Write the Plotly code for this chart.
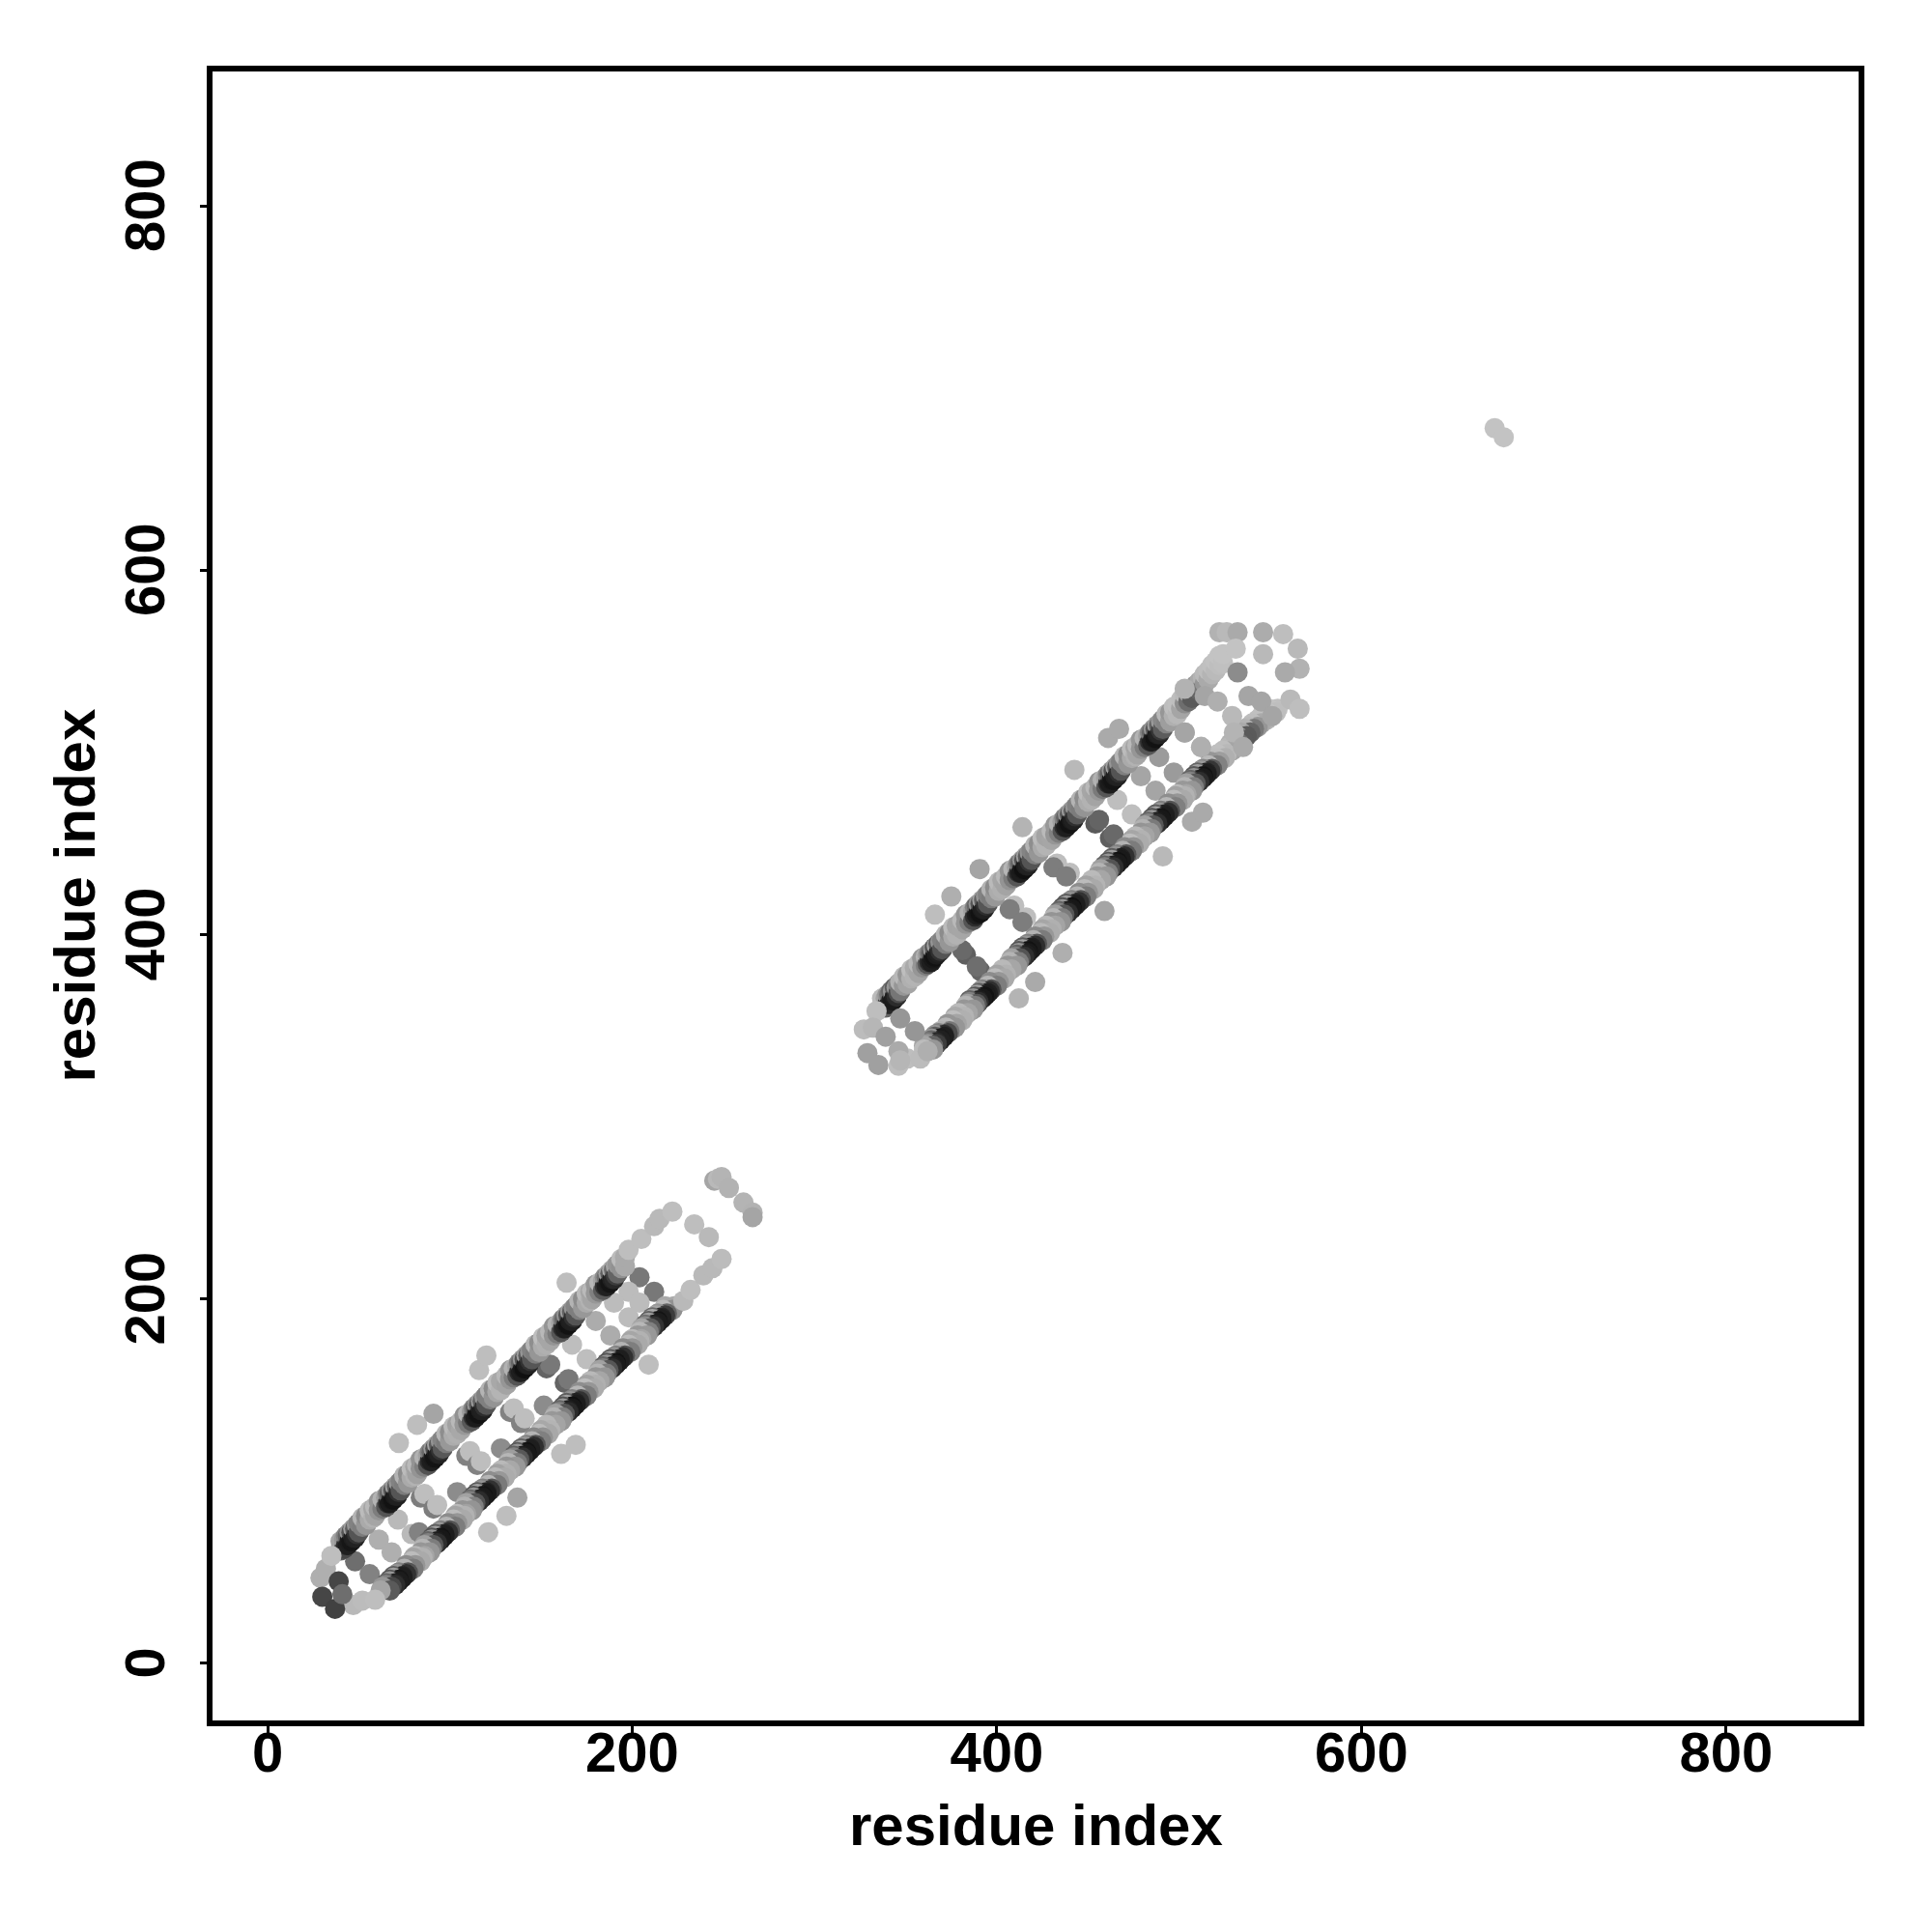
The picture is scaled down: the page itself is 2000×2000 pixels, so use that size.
import plotly.graph_objects as go

# --- strand contacts (residue i, residue j, grey level); two entries per residue
low_i = [40,40,42,42,43,43,44,44,45,45,46,46,47,47,48,48,49,49,50,50,52,52,54,54,56,56,58,58,
         59,59,61,61,63,63,65,65,66,66,67,67,68,68,69,69,70,70,71,71,72,72,73,73,75,75,77,77,79,79,81,81,
         82,82,84,84,86,86,88,88,89,89,90,90,91,91,92,92,93,93,94,94,95,95,96,96,98,98,100,100,102,102,104,104,
         106,106,108,108,110,110,112,112,113,113,114,114,115,115,116,116,117,117,118,118,119,119,120,120,122,122,124,124,126,126,128,128,
         131,131,133,133,135,135,137,137,138,138,139,139,140,140,141,141,142,142,143,143,144,144,145,145,147,147,149,149,151,151,153,153,
         155,155,157,157,159,159,161,161,162,162,163,163,164,164,165,165,166,166,167,167,168,168,169,169,171,171,173,173,175,175,177,177,
         178,178,180,180,182,182,184,184,185,185,186,186,187,187,188,188,189,189,190,190,191,191,192,192,194,194,196,196]
low_j = [62,67,63,68,65,70,65,70,67,72,67,72,69,74,69,74,71,76,72,77,75,80,76,81,79,84,80,85,
         81,86,84,89,85,90,86,91,88,93,88,93,90,95,90,95,92,97,92,97,94,99,95,100,98,103,99,104,102,107,103,108,
         104,109,107,112,108,113,109,114,111,116,111,116,113,118,113,118,115,120,115,120,117,122,118,123,121,126,122,127,125,130,126,131,
         128,133,131,136,132,137,133,138,135,140,135,140,137,142,137,142,139,144,139,144,141,146,142,147,145,150,146,151,149,154,150,155,
         153,158,156,161,157,162,158,163,160,165,160,165,162,167,162,167,164,169,164,169,166,171,167,172,170,175,171,176,174,179,175,180,
         177,182,180,185,181,186,182,187,184,189,184,189,186,191,186,191,188,193,188,193,190,195,191,196,194,199,195,200,198,203,199,204,
         200,205,203,208,204,209,205,210,207,212,207,212,209,214,209,214,211,216,211,216,213,218,214,219,217,222,218,223]
low_shade = [90,165,70,150,45,130,32,100,28,150,22,85,30,160,34,95,50,150,85,130,125,180,150,140,170,188,178,165,
             165,185,150,150,125,180,85,160,45,130,28,100,24,150,18,85,28,160,32,95,48,150,85,130,125,180,150,140,170,188,178,165,
             162,186,148,148,128,178,82,162,44,128,30,104,26,152,20,82,26,162,34,92,50,148,88,132,122,182,152,142,172,186,176,162,
             168,185,152,146,122,182,88,158,46,132,28,98,25,148,18,88,30,158,32,98,46,152,84,128,128,180,148,138,168,188,180,168,
             164,184,150,152,126,178,84,160,42,130,30,102,24,152,16,84,28,160,34,94,50,150,86,130,124,182,150,142,172,190,176,164,
             166,185,148,148,124,180,86,162,46,128,32,100,26,150,18,86,30,162,32,96,48,148,84,132,126,180,152,140,170,188,178,166,
             165,186,152,152,128,184,90,166,50,140,32,110,28,160,20,96,32,170,40,108,60,165,100,150,145,188,170,170]

up_i = [337,337,339,339,340,340,341,341,342,342,343,343,344,344,345,345,346,346,347,347,349,349,351,351,353,353,355,355,
        357,357,359,359,361,361,362,362,363,363,364,364,365,365,366,366,367,367,368,368,369,369,370,370,372,372,374,374,376,376,378,378,
        381,381,383,383,385,385,387,387,388,388,389,389,390,390,391,391,392,392,393,393,394,394,395,395,397,397,399,399,401,401,403,403,
        405,405,407,407,409,409,411,411,412,412,413,413,414,414,415,415,416,416,417,417,418,418,419,419,421,421,423,423,425,425,427,427,
        430,430,432,432,434,434,436,436,437,437,438,438,439,439,440,440,441,441,442,442,443,443,444,444,446,446,448,448,450,450,452,452,
        454,454,456,456,458,458,460,460,461,461,462,462,463,463,464,464,465,465,466,466,467,467,468,468,470,470,472,472,474,474,476,476,
        477,477,479,479,481,481,483,483,484,484,485,485,486,486,487,487,488,488,489,489,490,490,491,491,493,493,495,495,497,497,499,499,
        501,501,503,503,505,505,507,507,509,509,511,511,513,513,514,514,516,516,518,518,520,520,522,522,524,524]
up_j = [360,365,360,365,362,367,362,367,364,369,364,369,366,371,366,371,368,373,369,374,372,377,373,378,376,381,377,382,
        379,384,382,387,383,388,384,389,385,390,385,390,387,392,388,393,389,394,390,395,391,396,392,397,395,400,396,401,399,404,400,405,
        403,408,406,411,407,412,408,413,410,415,411,416,412,417,412,417,414,419,414,419,416,421,417,422,420,425,421,426,424,429,425,430,
        427,432,430,435,431,436,432,437,434,439,434,439,436,441,436,441,438,443,438,443,440,445,441,446,444,449,445,450,448,453,449,454,
        452,457,455,460,456,461,457,462,459,464,459,464,461,466,461,466,463,468,463,468,465,470,466,471,469,474,470,475,473,478,474,479,
        476,481,479,484,480,485,481,486,483,488,483,488,485,490,485,490,487,492,487,492,489,494,490,495,493,498,494,499,497,502,498,503,
        499,504,502,507,503,508,504,509,506,511,506,511,508,513,508,513,510,515,510,515,512,517,513,518,516,521,517,522,520,525,521,526,
        524,529,527,532,528,533,530,535,532,537,534,539,536,541,538,543,540,545,543,548,545,550,548,553,549,554]
up_shade = [150,188,100,165,60,150,40,120,32,105,26,150,30,92,44,150,76,130,118,178,150,185,165,150,176,190,180,170,
            165,186,150,150,125,180,85,160,46,130,30,98,24,150,18,84,28,160,32,94,48,150,84,130,125,182,150,140,170,188,178,165,
            166,185,150,150,126,180,84,162,46,128,30,100,25,150,18,86,28,162,32,96,46,150,86,130,124,180,152,140,172,186,176,166,
            164,185,148,148,124,182,86,160,44,130,28,102,24,152,16,84,30,160,34,92,50,148,84,132,126,180,150,142,170,188,180,164,
            166,186,150,152,128,180,84,160,46,130,30,98,26,150,18,86,26,160,32,96,48,150,86,130,124,180,148,140,172,190,178,166,
            164,185,152,148,122,178,86,162,44,132,28,100,24,152,20,82,30,162,34,94,46,150,84,128,128,182,150,142,170,188,178,164,
            166,186,150,152,126,180,88,160,46,130,30,102,26,150,18,88,30,160,36,100,54,155,92,136,130,185,158,150,176,190,184,192,
            165,190,142,185,110,178,90,165,90,150,100,170,120,180,150,186,170,190,180,192,186,194,190,195,192,195]

# --- rungs between the strands, drawn beneath the strands
rung_x = [48,56,61,68,71.5,79,83,104,84,86,91,93,109,111,115,117,128,133,135,139,141,151.5,153,155,163,165,
          167,175,180,188,204,212,198,190,204,198,
          383,391,381,389,409.5,416,407,414,433,440,431,438,454,462,456,464,466,474,
          479,487,489,497,503,512]
rung_y = [56,49,68,61,79,71,72,94,91,93,85,87,114,116.5,109,111,118,138,140,132,134.5,141.5,162,164,154,156,
          175,167,188,180,212,204,204,198,198,190,
          389,380,391.5,382.5,416,409.5,414,407,439,434,437,432,461,453,463,455,474,466,
          487,479,497.5,489,511,503]
rung_shade = [110,130,175,175,185,185,130,140,125,190,125,190,130,190,130,190,140,130,190,130,190,140,100,120,100,120,
              190,190,172,172,120,120,188,188,188,188,
              95,100,105,110,190,190,125,125,190,190,125,125,90,95,100,105,190,190,
              165,165,155,155,175,175]

# --- isolated contacts and the pale strand ends, drawn above the strands
top_x = [72,82,91,116,120,164,121,131,137,161,169,209,
         390.5,366,375,414,442.5,461,467,412,421,436,459,491,507,513,673,678,
         29,32,35,30,47,52,59,37,39,41,
         198,205,212,215,222,228,232,239,244,249,234,242,245,247,249,253,261,266,266,
         327,334,332,329,335,339,347,355,351,346,346,347,358,362,
         522,526,532,531,514,521,529,503,503,512,530,535,538,545,551,561,566,546,546,557,565,566,558,532]
top_y = [121,131,137,161,169,209,72,81,91,115,120,164,
         436,411,421,459,490.5,508,513,365,374,390,413,443,462,467,678,673,
         47,52,59,36.6,32,34.5,35,30,45,38,
         227,233,240,244,248,199,205,213,217,222,241,234,265,266,267,261,253,247.5,245,
         348,358,349,335,328.5,344,354,347,332,336,328,331,332,336,
         566,566,566,557,531,528,520,535,511,503,511,503,531,528,520,529,524,566,554,565,557,546,544,544]
top_shade = [190,190,165,190,190,190,190,190,165,190,190,190,
             165,190,175,180,185,170,170,180,170,175,165,185,170,170,195,195,
             175,175,190,70,185,188,190,65,70,110,
             190,190,185,185,190,185,190,185,185,188,190,185,165,185,180,178,180,178,165,
             188,190,182,160,160,160,150,150,190,170,190,182,188,175,
             178,185,170,195,165,175,185,178,165,175,180,170,165,165,165,185,190,172,185,190,185,178,170,140]
x_ticks = [0, 200, 400, 600, 800]
y_ticks = [0, 200, 400, 600, 800]
x_label = "residue index"
y_label = "residue index"

def grey(v):
    return f"rgb({v},{v},{v})"

strand_i = low_i + up_i
strand_j = low_j + up_j
strand_s = low_shade + up_shade
# mirrored strand: same contacts with the axes swapped, drawn from the far end so that
# each dark disc stays exposed on the lower right, as in the upper strand
mirror_x, mirror_y, mirror_s = [], [], []
for p in range(len(strand_i) // 2 - 1, -1, -1):
    mirror_x += [strand_j[2 * p + 1], strand_j[2 * p]]
    mirror_y += [strand_i[2 * p + 1], strand_i[2 * p]]
    mirror_s += [strand_s[2 * p], strand_s[2 * p + 1]]

SIZE = 21
def discs(x, y, s):
    return go.Scatter(x=x, y=y, mode="markers", hoverinfo="skip",
                      marker=dict(size=SIZE, color=[grey(v) for v in s], line=dict(width=0)))

fig = go.Figure()
fig.add_trace(discs(rung_x, rung_y, rung_shade))
fig.add_trace(discs(strand_i, strand_j, strand_s))
fig.add_trace(discs(mirror_x, mirror_y, mirror_s))
fig.add_trace(discs(top_x, top_y, top_shade))

font = dict(family="Liberation Sans", size=58, color="black", weight="bold")
title_font = dict(family="Liberation Sans", size=60, color="black", weight="bold")
axis = dict(showline=True, mirror=True, linecolor="black", linewidth=6, showgrid=False, zeroline=False,
            ticks="outside", ticklen=7, tickwidth=3, tickcolor="black", tickfont=font, automargin=False)
fig.update_layout(
    width=1992, height=1992, showlegend=False, paper_bgcolor="white", plot_bgcolor="white",
    margin=dict(l=212, r=76, t=66, b=219),
    xaxis=dict(axis, range=[-30.2, 872.6], tickvals=x_ticks, ticktext=[str(v) for v in x_ticks],
               ticklabelstandoff=-30),
    yaxis=dict(axis, range=[-31.3, 873.8], tickvals=y_ticks, ticktext=[str(v) for v in y_ticks], tickangle=-90,
               ticklabelstandoff=14, ticklabelshift=8),
    annotations=[
        dict(text=x_label, xref="paper", yref="paper", x=0.5, y=0, yanchor="middle", xanchor="center",
             yshift=-108, showarrow=False, font=title_font),
        dict(text=y_label, xref="paper", yref="paper", x=0, y=0.5, yanchor="middle", xanchor="center",
             xshift=-143, textangle=-90, showarrow=False, font=title_font),
    ],
)
fig.write_html("out.html")
